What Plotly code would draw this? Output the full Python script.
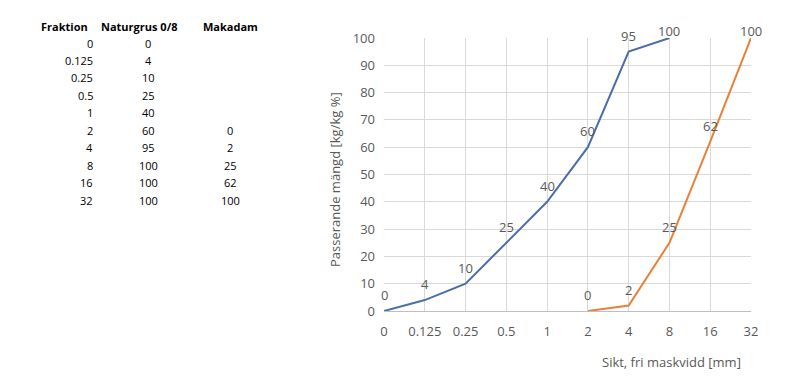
import plotly.graph_objects as go

# ---- data ----
fraktion = ["0", "0.125", "0.25", "0.5", "1", "2", "4", "8", "16", "32"]
naturgrus = [0, 4, 10, 25, 40, 60, 95, 100, 100, 100]
makadam = [None, None, None, None, None, 0, 2, 25, 62, 100]
table_headers = ["Fraktion", "Naturgrus 0/8", "Makadam"]
# series as drawn in the chart
chart_natur_x = ["0", "0.125", "0.25", "0.5", "1", "2", "4", "8"]
chart_natur_y = [0, 4, 10, 25, 40, 60, 95, 100]
chart_makadam_x = ["2", "4", "8", "16", "32"]
chart_makadam_y = [0, 2, 25, 62, 100]
y_ticks = list(range(0, 101, 10))

W, H = 800, 380
L, R, T, B = 384, 751, 38, 311

def px(x):
    return (x - L) / (R - L)

def py(y):
    return (B - y) / (B - T)

TXT = "#595959"
FONT = "Open Sans"

fig = go.Figure()
ann = []
for xs, ys, col in [(chart_natur_x, chart_natur_y, "#4a6fa8"),
                    (chart_makadam_x, chart_makadam_y, "#e8803a")]:
    fig.add_trace(go.Scatter(
        x=xs, y=ys, mode="lines",
        line=dict(color=col, width=2),
        showlegend=False, hoverinfo="x+y",
    ))
    for xv, yv in zip(xs, ys):
        dist_to_top = (100 - yv) / 100 * (B - T)
        shift = min(16, dist_to_top + (T - 31))
        ann.append(dict(x=fraktion.index(xv), y=yv, xref="x", yref="y", text=str(yv),
                        showarrow=False, xanchor="center", yanchor="middle", yshift=shift,
                        font=dict(family=FONT, size=13, color=TXT)))

hdr_x = [(39, "left"), (139, "center"), (230, "center")]
for (x, al), h in zip(hdr_x, table_headers):
    ann.append(dict(x=px(x), y=py(27), xref="paper", yref="paper", text="<b>%s</b>" % h,
                    showarrow=False, xanchor=al, yanchor="middle",
                    font=dict(family=FONT, size=11, color="#000000")))
for i, (f, n, m) in enumerate(zip(fraktion, naturgrus, makadam)):
    yy = py(43 + i * 17.45)
    ann.append(dict(x=px(95), y=yy, xref="paper", yref="paper", text=f, showarrow=False,
                    xanchor="right", yanchor="middle", font=dict(family=FONT, size=11, color="#000")))
    ann.append(dict(x=px(148), y=yy, xref="paper", yref="paper", text=str(n), showarrow=False,
                    xanchor="center", yanchor="middle", font=dict(family=FONT, size=11, color="#000")))
    if m is not None:
        ann.append(dict(x=px(230), y=yy, xref="paper", yref="paper", text=str(m), showarrow=False,
                        xanchor="center", yanchor="middle", font=dict(family=FONT, size=11, color="#000")))
ann.append(dict(x=px(671), y=py(362), xref="paper", yref="paper", text="Sikt, fri maskvidd [mm]",
                showarrow=False, xanchor="center", yanchor="middle",
                font=dict(family=FONT, size=13, color=TXT)))
ann.append(dict(x=px(335), y=py(180), xref="paper", yref="paper", text="Passerande mängd [kg/kg %]",
                showarrow=False, xanchor="center", yanchor="middle", textangle=-90,
                font=dict(family=FONT, size=13, color=TXT)))

fig.update_layout(
    width=W, height=H,
    margin=dict(l=L, r=W - R, t=T, b=H - B),
    paper_bgcolor="white", plot_bgcolor="white",
    annotations=ann,
    xaxis=dict(type="category", categoryorder="array", categoryarray=fraktion,
               range=[0, len(fraktion) - 1], showgrid=True, gridcolor="#d9d9d9",
               showline=True, linecolor="#bfbfbf", zeroline=False,
               tickfont=dict(family=FONT, size=13, color=TXT), ticks="",
               ticklabelstandoff=8),
    yaxis=dict(range=[0, 100], tickvals=y_ticks, showgrid=True, gridcolor="#d9d9d9",
               zeroline=False, showline=False, ticks="",
               tickfont=dict(family=FONT, size=13, color=TXT), ticklabelstandoff=8),
)

fig.write_html("out.html")
